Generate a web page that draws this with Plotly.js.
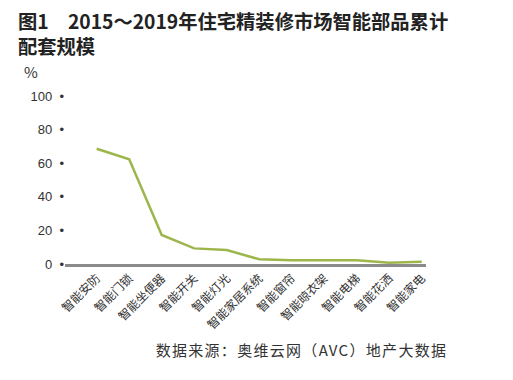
<!DOCTYPE html>
<html>
<head>
<meta charset="utf-8">
<script src="https://cdn.plot.ly/plotly-3.0.1.min.js"></script>
<style>
html,body{margin:0;padding:0;background:#fff;}
#chart{width:513px;height:380px;}
g.annotation[data-index="2"] text {letter-spacing: 1.3px;}
</style>
</head>
<body>
<div id="chart"></div>
<script>
var categories = ["智能安防","智能门锁","智能坐便器","智能开关","智能灯光","智能家居系统","智能窗帘","智能晾衣架","智能电梯","智能花洒","智能家电"];
var values = [68.6, 62.3, 17.3, 9.3, 8.3, 2.8, 2.2, 2.2, 2.2, 0.8, 1.4];
var yTicks = [0, 20, 40, 60, 80, 100];
var yTickLabels = yTicks.map(function(v){ return v + "\u00a0\u00a0\u2022"; });
var titleLines = ["图1　2015～2019年住宅精装修市场智能部品累计", "配套规模"];
var unitLabel = "%";
var sourceText = "数据来源：奥维云网（AVC）地产大数据";

var cjk = '"Noto Sans CJK SC", "Liberation Sans", sans-serif';
var trace = {
  x: categories,
  y: values,
  type: 'scatter',
  mode: 'lines',
  line: {color: '#9db64c', width: 2.5},
  hoverinfo: 'skip'
};
function px(X){ return (X - 65) / 361; }
function py(Y){ return (264 - Y) / 168; }
var layout = {
  width: 513, height: 380,
  margin: {l: 65, r: 87, t: 96, b: 116},
  paper_bgcolor: '#fff', plot_bgcolor: '#fff',
  showlegend: false,
  xaxis: {
    type: 'category',
    range: [-0.975, 10.13],
    showgrid: false, zeroline: false,
    showline: true, linecolor: '#8a8a8a', linewidth: 2.5,
    ticks: '', tickangle: -45,
    tickfont: {family: cjk, size: 12, color: '#333'},
    fixedrange: true
  },
  yaxis: {
    range: [0, 100],
    tickvals: yTicks, ticktext: yTickLabels,
    showgrid: false, zeroline: false, showline: false,
    ticks: '', ticklabelstandoff: 0,
    tickfont: {family: '"Liberation Sans", Arial, sans-serif', size: 13, color: '#333'},
    fixedrange: true
  },
  annotations: [
    {text: titleLines.join('<br>'), xref: 'paper', yref: 'paper', x: px(17), y: py(33.5), xanchor: 'left', yanchor: 'middle',
     align: 'left', showarrow: false, borderpad: 0, font: {family: cjk, size: 19.3, color: '#222', weight: 'bold'}},
    {text: unitLabel, xref: 'paper', yref: 'paper', x: px(22), y: py(71), xanchor: 'left', yanchor: 'middle',
     showarrow: false, font: {family: cjk, size: 15, color: '#333'}},
    {text: sourceText, xref: 'paper', yref: 'paper', x: px(166), y: py(349),
     xanchor: 'left', yanchor: 'middle', showarrow: false,
     font: {family: cjk, size: 15, color: '#333'}}
  ]
};
Plotly.newPlot('chart', [trace], layout, {displayModeBar: false, staticPlot: true});
</script>
</body>
</html>
